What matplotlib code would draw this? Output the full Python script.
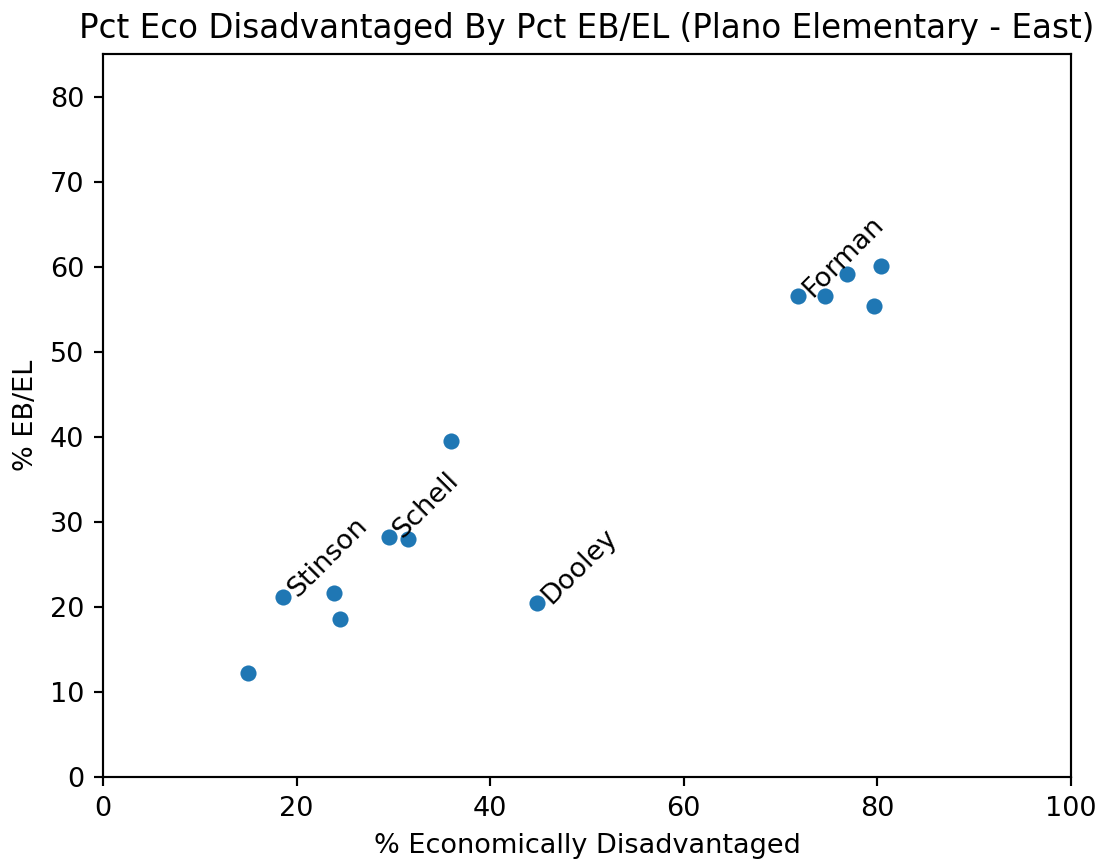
import matplotlib
matplotlib.use("Agg")
import matplotlib.pyplot as plt

# data
eco_pct = [15.0, 18.6, 23.9, 24.5, 29.5, 31.5, 36.0, 44.8, 71.8, 74.6, 76.9, 80.4, 79.6]
ebel_pct = [12.2, 21.2, 21.6, 18.6, 28.2, 28.0, 39.5, 20.5, 56.5, 56.5, 59.1, 60.1, 55.4]
names = ["", "Stinson", "", "", "Schell", "", "", "Dooley", "Forman", "", "", "", ""]

dpi = 195
fig = plt.figure(figsize=(1099 / dpi, 861 / dpi), dpi=dpi)
ax = fig.add_axes([103 / 1099, 84 / 861, 968 / 1099, 723 / 861])

ax.scatter(eco_pct, ebel_pct, s=45, color="#1f77b4", edgecolor="white", linewidth=0.75, zorder=3)
for x, y, n in zip(eco_pct, ebel_pct, names):
    if n:
        ax.text(x, y, n, rotation=45, fontsize=10, zorder=4)

ax.set_xlim(0, 100)
ax.set_ylim(0, 85)
ax.set_xlabel("% Economically Disadvantaged")
ax.set_ylabel("% EB/EL")
ax.set_title("Pct Eco Disadvantaged By Pct EB/EL (Plano Elementary - East)")

fig.savefig("out.png", dpi=dpi)
